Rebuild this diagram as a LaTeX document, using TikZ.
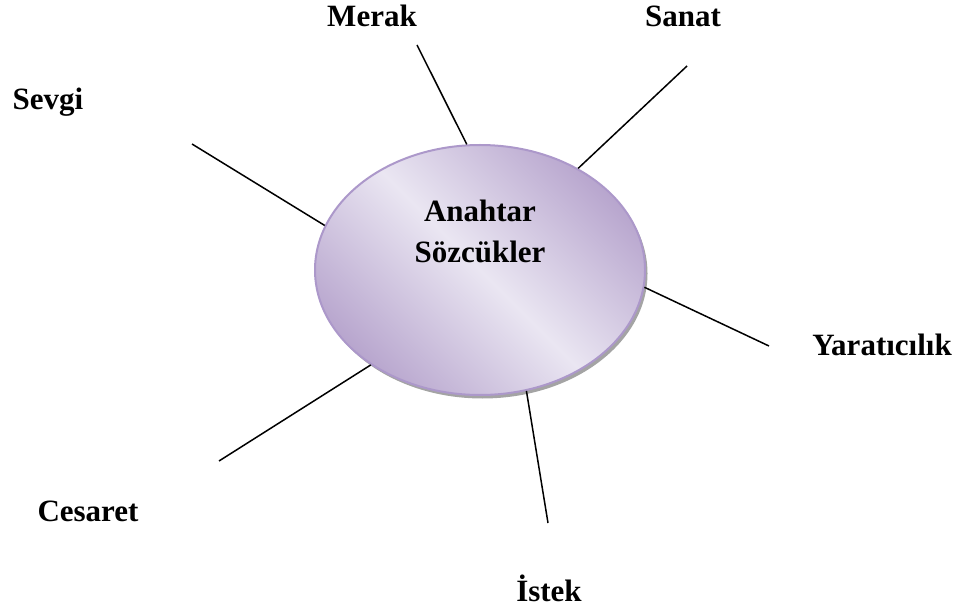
\documentclass[tikz,border=0pt]{standalone}
\usepackage{fontspec}
\setmainfont{Liberation Serif}
\usepackage{tikz}
\usetikzlibrary{shapes,shadows}
\definecolor{kedge}{RGB}{172,152,202}
\definecolor{kdark}{RGB}{184,166,206}
\definecolor{klight}{RGB}{234,230,242}
\newcommand{\kwfont}{\fontsize{31}{36}\selectfont\bfseries}
\begin{document}
\begin{tikzpicture}[x=1pt,y=-1pt,
		keyellipse/.style={ellipse,draw=kedge,line width=2pt,minimum width=330pt,minimum height=250pt,
			top color=kdark,bottom color=kdark,middle color=klight,shading angle=-45,
			drop shadow={shadow xshift=2.5pt,shadow yshift=-3.5pt,fill=black!55,opacity=0.65}},
		word/.style={font=\kwfont,anchor=base,inner sep=0pt},
		spoke/.style={line width=1.5pt}]
			\useasboundingbox (0,0) rectangle (965,609);
			% centre
			\node[keyellipse] (key) at (480,270) {};
			\node[word] (kw1) at (480,222) {Anahtar};
			\node[word] (kw2) at (480,263) {Sözcükler};
			% outer words
			\foreach \n/\t/\x/\y in {merak/Merak/372/27,sanat/Sanat/683/27,sevgi/Sevgi/48/110,
				yarat/Yaratıcılık/882/355,cesaret/Cesaret/88/521,istek/İstek/549/601}
			\node[word] (\n) at (\x,\y) {\t};
			% spokes
			\foreach \c/\x/\y/\a in {cmerak/417/45/96,csanat/687/66/46,csevgi/192/144/164,
				cyarat/769/346/354,ccesaret/219/461/221,cistek/548/523/291}
			{
			\coordinate (\c) at (\x,\y);
			\draw[spoke] (\c) -- (key.\a);
			}
		\end{tikzpicture}
\end{document}
